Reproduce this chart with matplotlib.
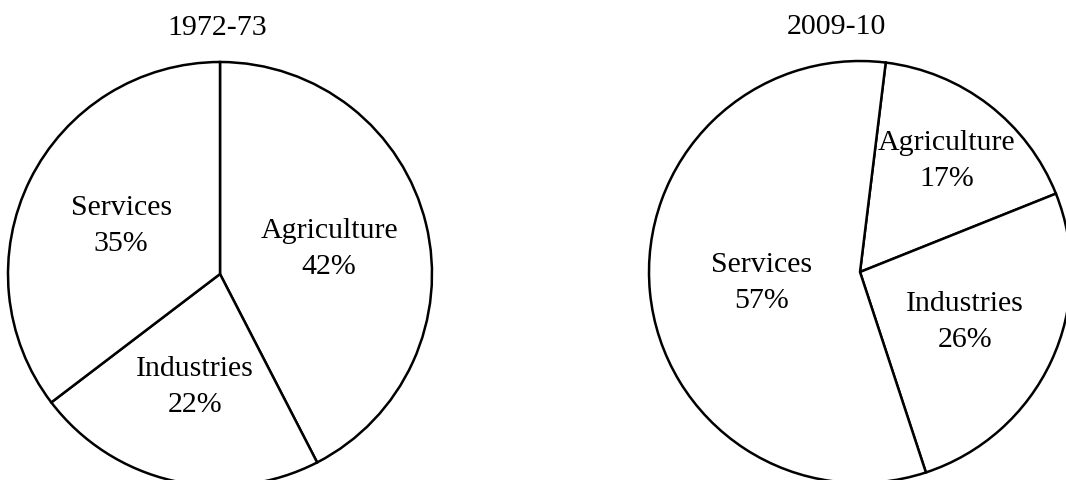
import numpy as np
import matplotlib
matplotlib.use("Agg")
from matplotlib import pyplot as plt

# Share of each sector in the economy for two years
sectors = ["Agriculture", "Industries", "Services"]
share_1972 = [42, 22, 35]
share_2009 = [17, 26, 57]
years = ["1972-73", "2009-10"]

plt.rcParams["font.family"] = ["Liberation Serif", "DejaVu Serif"]
FONT_SIZE = 21.5


def draw_pie(ax, values, title, start, label_dist, title_x):
    """Draw one white pie with black outlines and a label in each wedge."""
    wedges, _ = ax.pie(values, startangle=start, counterclock=False,
                       colors=["white"] * len(values),
                       wedgeprops={"edgecolor": "black", "linewidth": 1.8,
                                   "clip_on": False})
    # put the name and percentage inside each wedge, on its middle angle
    for wedge, name, val, dist in zip(wedges, sectors, values, label_dist):
        mid = np.deg2rad((wedge.theta1 + wedge.theta2) / 2)
        ax.text(dist * np.cos(mid), dist * np.sin(mid), f"{name}\n{val}%",
                ha="center", va="center", fontsize=FONT_SIZE,
                linespacing=1.5)
    ax.set_xlim(-1, 1)
    ax.set_ylim(-1, 1)
    ax.set_aspect("equal")
    ax.set_title(title, fontsize=FONT_SIZE, pad=20, x=title_x)


W, H = 1066, 481
fig = plt.figure(figsize=(W / 100, H / 100), dpi=100)

# left pie: centre (220, 275) px, radius 212 px
ax1 = fig.add_axes([8 / W, (H - 487) / H, 424 / W, 424 / H])
draw_pie(ax1, share_1972, years[0], 90, [0.53, 0.54, 0.52], 0.493)

# right pie: centre (860, 273) px, radius 211 px
ax2 = fig.add_axes([649 / W, (H - 484) / H, 422 / W, 422 / H])
draw_pie(ax2, share_2009, years[1], 83, [0.67, 0.55, 0.47], 0.445)

fig.savefig("out.png", dpi=100, facecolor="white")
